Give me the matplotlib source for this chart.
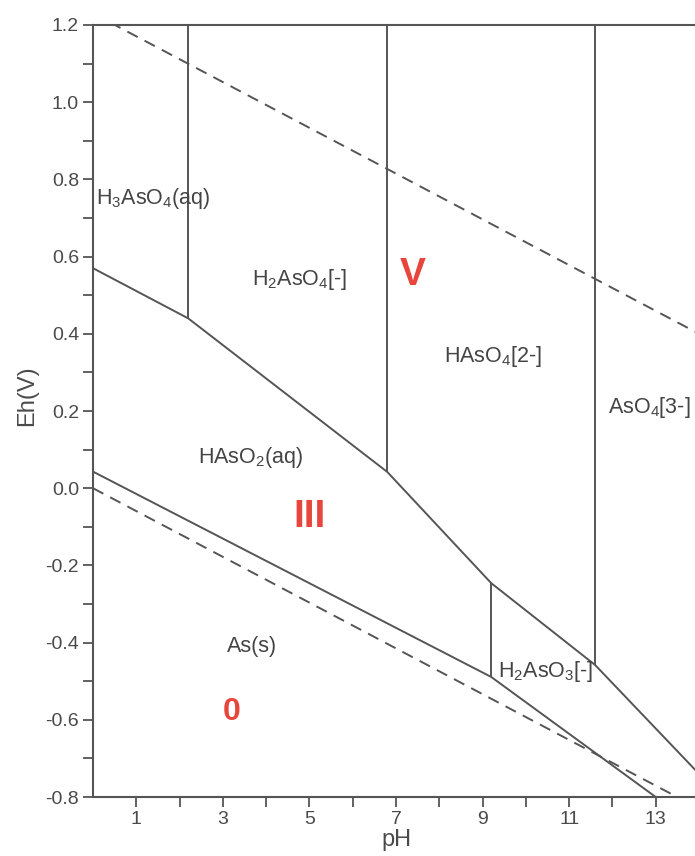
import matplotlib.pyplot as plt

plt.rcParams['font.family'] = ['Liberation Sans', 'DejaVu Sans']
plt.rcParams['mathtext.fontset'] = 'custom'
plt.rcParams['mathtext.rm'] = 'Liberation Sans'
plt.rcParams['mathtext.default'] = 'rm'

# water stability limits (dashed)
water_ph = [0, 14]
o2_eh = [1.23, 0.40]
h2_eh = [0.0, -0.83]

# As(V) / As(III) boundary
upper_ph = [0, 2.2, 6.8, 9.2, 11.6, 14]
upper_eh = [0.57, 0.44, 0.042, -0.246, -0.458, -0.74]

# As(III) / As(s) boundary
lower_ph = [0, 9.2, 13.0]
lower_eh = [0.043, -0.489, -0.80]

# vertical boundaries (pH, Eh bottom, Eh top)
vert_ph = [2.2, 6.8, 9.2, 11.6]
vert_bot = [0.44, 0.042, -0.489, -0.458]
vert_top = [1.2, 1.2, -0.246, 1.2]

# species labels
species = [r'H$_3$AsO$_4$(aq)', r'H$_2$AsO$_4$[-]', r'HAsO$_4$[2-]', r'AsO$_4$[3-]',
           r'HAsO$_2$(aq)', 'As(s)', r'H$_2$AsO$_3$[-]']
species_x = [0.08, 4.78, 9.24, 11.9, 3.65, 3.68, 10.45]
species_y = [0.75, 0.54, 0.34, 0.21, 0.08, -0.41, -0.475]
species_ha = ['left', 'center', 'center', 'left', 'center', 'center', 'center']

# oxidation states
ox_labels = ['V', 'III', '0']
ox_x = [7.39, 5.01, 3.2]
ox_y = [0.552, -0.075, -0.58]
ox_size = [28, 28, 23]

line_col = '#555555'

fig = plt.figure(figsize=(6.95, 8.56), dpi=100)
ax = fig.add_axes([0.1338, 0.0689, 0.872, 0.9019])

ax.plot(water_ph, o2_eh, color=line_col, lw=1.4, ls=(0, (6, 4)))
ax.plot(water_ph, h2_eh, color=line_col, lw=1.4, ls=(0, (6, 4)))
ax.plot(upper_ph, upper_eh, color=line_col, lw=1.4)
ax.plot(lower_ph, lower_eh, color=line_col, lw=1.4)
ax.vlines(vert_ph, vert_bot, vert_top, color=line_col, lw=1.4)

for s, x, y, ha in zip(species, species_x, species_y, species_ha):
    ax.text(x, y, s, ha=ha, va='center', fontsize=15.5, color='#444444')

for s, x, y, fs in zip(ox_labels, ox_x, ox_y, ox_size):
    ax.text(x, y, s, ha='center', va='center', fontsize=fs, fontweight='bold', color='#e8463c')

ax.set_xlim(0, 14)
ax.set_ylim(-0.8, 1.2)
ax.set_xticks([1, 3, 5, 7, 9, 11, 13])
ax.set_xticks([2, 4, 6, 8, 10, 12], minor=True)
ax.set_yticks([-0.8, -0.6, -0.4, -0.2, 0.0, 0.2, 0.4, 0.6, 0.8, 1.0, 1.2])
ax.set_yticklabels(['-0.8', '-0.6', '-0.4', '-0.2', '0.0', '0.2', '0.4', '0.6', '0.8', '1.0', '1.2'])
ax.set_yticks([-0.7, -0.5, -0.3, -0.1, 0.1, 0.3, 0.5, 0.7, 0.9, 1.1], minor=True)
ax.tick_params(which='both', direction='out', length=7, width=1.3, color=line_col,
               labelsize=14, labelcolor='#4a4a4a', pad=3)

for sp in ax.spines.values():
    sp.set_color(line_col)
    sp.set_linewidth(1.5)

ax.set_xlabel('pH', fontsize=17, color='#4a4a4a', labelpad=1)
ax.set_ylabel('Eh(V)', fontsize=17, color='#4a4a4a')
ax.yaxis.set_label_coords(-0.09, 0.52)

plt.savefig('out.png', dpi=100)
